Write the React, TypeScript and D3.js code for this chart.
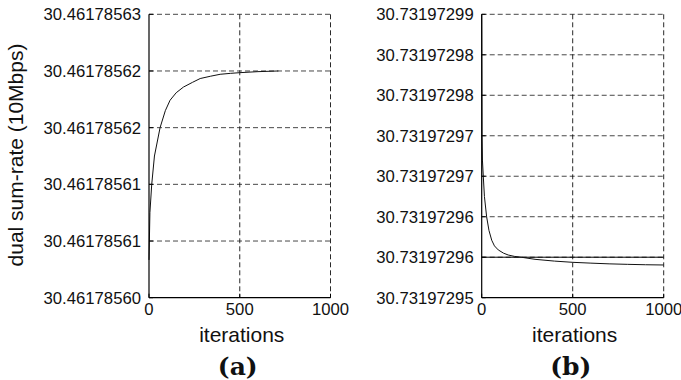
import { scaleLinear, line } from "d3";

// panel (a): iterations vs dual sum-rate
const iterA = [0, 5, 15, 30, 61, 90, 116, 150, 190, 240, 282, 340, 392, 450, 500, 600, 713];
const valA = [
  30.461785604, 30.461785609, 30.461785612, 30.461785615, 30.461785618, 30.4617856198,
  30.4617856209, 30.4617856217, 30.4617856223, 30.4617856228, 30.4617856232, 30.46178562345,
  30.46178562365, 30.46178562375, 30.46178562382, 30.46178562393, 30.461785624,
];
const yTicksA = [30.4617856, 30.461785606, 30.461785612, 30.461785618, 30.461785624, 30.46178563];
const yLabelsA = ["30.46178560", "30.46178561", "30.46178561", "30.46178562", "30.46178562", "30.46178563"];

// panel (b)
const iterB = [0, 1, 2, 4, 9, 15, 27, 40, 55, 70, 91, 120, 146, 180, 220, 293, 400, 500, 600, 700, 800, 900, 1000];
const valB = [
  30.731972985, 30.731972978, 30.73197297, 30.731972967, 30.7319729649, 30.7319729625,
  30.73197296, 30.7319729583, 30.7319729571, 30.7319729564, 30.7319729559, 30.7319729555,
  30.73197295527, 30.7319729551, 30.73197295499, 30.73197295474, 30.73197295452,
  30.73197295437, 30.73197295427, 30.73197295418, 30.73197295412, 30.73197295407, 30.73197295404,
];
const refB = 30.731972955;
const yTicksB = [
  30.73197295, 30.731972955, 30.73197296, 30.731972965, 30.73197297, 30.731972975, 30.73197298, 30.731972985,
];
const yLabelsB = [
  "30.73197295", "30.73197296", "30.73197296", "30.73197297", "30.73197297", "30.73197298", "30.73197298", "30.73197299",
];

const xTicks = [0, 500, 1000];
const font = "'Liberation Sans', Arial, sans-serif";

interface PanelProps {
  left: number;
  right: number;
  iters: number[];
  vals: number[];
  yTicks: number[];
  yLabels: string[];
  tag: string;
  refLine?: number;
}

function Panel({ left, right, iters, vals, yTicks, yLabels, tag, refLine }: PanelProps) {
  const top = 14.3;
  const bottom = 297.7;
  const x = scaleLinear().domain([0, 1000]).range([left, right]);
  const y = scaleLinear().domain([yTicks[0], yTicks[yTicks.length - 1]]).range([bottom, top]);
  const pts = iters.map((it, i) => [it, vals[i]] as [number, number]);
  const path = line<[number, number]>()
    .x((d) => x(d[0]))
    .y((d) => y(d[1]))(pts);
  const cx = (left + right) / 2;
  return (
    <g>
      {/* grid */}
      {yTicks.slice(1).map((t) => (
        <line key={"gy" + t} x1={left} x2={right} y1={y(t)} y2={y(t)}
          stroke="#333" strokeWidth={0.9} strokeDasharray="5,3" />
      ))}
      {xTicks.slice(1).map((t) => (
        <line key={"gx" + t} x1={x(t)} x2={x(t)} y1={top} y2={bottom}
          stroke="#111" strokeWidth={0.9} strokeDasharray="5,3" />
      ))}
      {refLine !== undefined && (
        <line x1={left} x2={right} y1={y(refLine)} y2={y(refLine)} stroke="#000" strokeWidth={1} />
      )}
      <path d={path ?? ""} fill="none" stroke="#111" strokeWidth={1} />
      {/* axes */}
      <line x1={left} x2={left} y1={top} y2={bottom} stroke="#000" strokeWidth={1.2} />
      <line x1={left} x2={right} y1={bottom} y2={bottom} stroke="#000" strokeWidth={1.2} />
      {xTicks.map((t) => (
        <line key={"tx" + t} x1={x(t)} x2={x(t)} y1={bottom} y2={bottom - 4} stroke="#000" />
      ))}
      {yTicks.map((t) => (
        <line key={"ty" + t} x1={left} x2={left + 4} y1={y(t)} y2={y(t)} stroke="#000" />
      ))}
      {/* labels */}
      {yTicks.map((t, i) => (
        <text key={"ly" + t} x={left - 8} y={y(t)} dy="0.35em" textAnchor="end"
          fontFamily={font} fontSize={16.7} fill="#111">
          {yLabels[i]}
        </text>
      ))}
      {xTicks.map((t) => (
        <text key={"lx" + t} x={x(t)} y={315} textAnchor="middle"
          fontFamily={font} fontSize={16.7} fill="#111">
          {t}
        </text>
      ))}
      <text x={cx + 2} y={341.7} textAnchor="middle" fontFamily={font} fontSize={21} fill="#111">
        iterations
      </text>
      <text x={cx - 2} y={375} textAnchor="middle" fontFamily="'DejaVu Serif', serif"
        fontWeight="bold" fontSize={25} fill="#111">
        {tag}
      </text>
    </g>
  );
}

export default function App() {
  return (
    <svg width={681} height={380} style={{ position: "absolute", left: 0, top: 0, background: "#fff" }}>
      <rect width={681} height={380} fill="#fff" />
      <Panel left={149} right={330.5} iters={iterA} vals={valA} yTicks={yTicksA} yLabels={yLabelsA} tag="(a)" />
      <Panel left={481.7} right={663.7} iters={iterB} vals={valB} yTicks={yTicksB} yLabels={yLabelsB}
        tag="(b)" refLine={refB} />
      <text transform="translate(23,155) rotate(-90)" textAnchor="middle" fontFamily={font}
        fontSize={21} fill="#111">
        dual sum-rate (10Mbps)
      </text>
    </svg>
  );
}
